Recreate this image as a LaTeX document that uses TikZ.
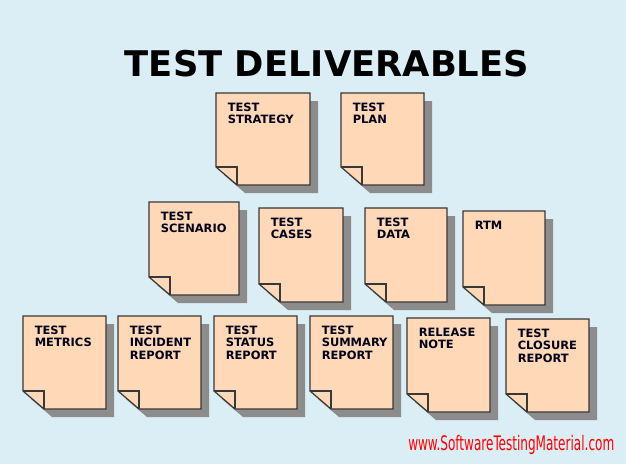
\documentclass[tikz,border=0pt]{standalone}
\usepackage{fontspec}
\setmainfont{DejaVu Sans}
\newfontfamily\condfont{DejaVu Sans Condensed}
\definecolor{bg}{HTML}{DCEEF5}
\definecolor{peach}{HTML}{FFD8B8}
\definecolor{edge}{HTML}{383838}
\definecolor{shade}{HTML}{8C8C8C}
\definecolor{ink}{HTML}{000018}
\tikzset{
  notebody/.style={draw=edge, line width=0.9pt, fill=peach, line join=miter},
  notefold/.style={draw=edge, line width=0.9pt},
  noteshadow/.style={fill=shade},
  notetext/.style={anchor=north west, inner sep=0pt, align=left, text=ink,
    font=\bfseries\fontsize{8.6}{9.3}\selectfont},
  titletext/.style={anchor=base, inner sep=0pt, text=black,
    font=\bfseries\fontsize{26.5}{30}\selectfont},
  urltext/.style={anchor=base west, inner sep=0pt, text=red,
    font=\condfont\fontsize{15}{17}\selectfont}
}
\newcommand\docnote[6]{%
  \fill[noteshadow] ({#2+8},{#3+8}) -- ({#4+8},{#3+8}) -- ({#4+8},{#5+8}) -- ({#2+29},{#5+8}) -- ({#2+8},{#5-10}) -- cycle;
  \draw[notebody] (#2,#3) -- (#4,#3) -- (#4,#5) -- ({#2+21},#5) -- (#2,{#5-18}) -- cycle;
  \draw[notefold] (#2,{#5-18}) -- ({#2+21},{#5-18}) -- ({#2+21},#5);
  \node[notetext] (#1) at ({#2+11.5},{#3+9.5}) {#6};
}
\begin{document}
\begin{tikzpicture}[x=0.75pt,y=-0.75pt]
\fill[bg] (0,0) rectangle (626,464);
\useasboundingbox (0,0) rectangle (626,464);
\node[titletext] (title) at (327,76) {TEST DELIVERABLES};
% row 1
\docnote{strategy}{216}{93}{310}{185}{TEST\\STRATEGY}
\docnote{plan}{341}{93}{424}{185}{TEST\\PLAN}
% row 2
\docnote{scenario}{149}{202}{239}{295}{TEST\\SCENARIO}
\docnote{cases}{259}{208}{343}{302}{TEST\\CASES}
\docnote{data}{365}{208}{447}{302}{TEST\\DATA}
\docnote{rtm}{463}{211}{545}{305}{RTM}
% row 3
\docnote{metrics}{23}{316}{106}{409}{TEST\\METRICS}
\docnote{incident}{118}{316}{201}{409}{TEST\\INCIDENT\\REPORT}
\docnote{status}{214}{316}{297}{409}{TEST\\STATUS\\REPORT}
\docnote{summary}{310}{316}{393}{409}{TEST\\SUMMARY\\REPORT}
\docnote{release}{407}{318}{490}{412}{RELEASE\\NOTE}
\docnote{closure}{506}{319}{589}{412}{TEST\\CLOSURE\\REPORT}
\node[urltext] (url) at (408,450) {\scalebox{0.67}[1]{www.SoftwareTestingMaterial.com}};
\end{tikzpicture}
\end{document}
